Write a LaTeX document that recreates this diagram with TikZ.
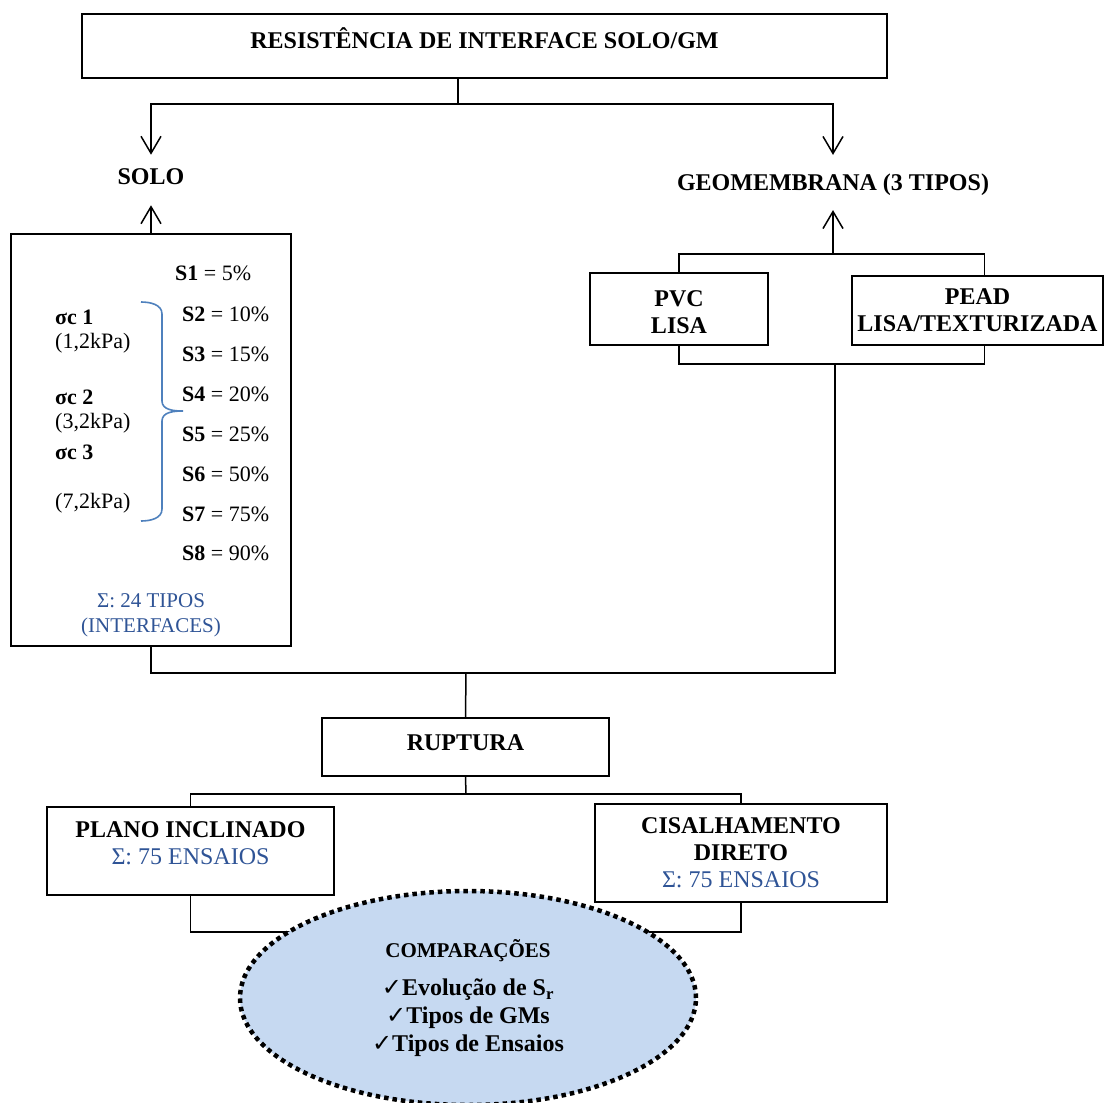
\documentclass[tikz,border=0pt]{standalone}
\usepackage{fontspec}
\setmainfont{Liberation Serif}
\newfontfamily\symfont{DejaVu Sans}
\usepackage{tikz}
\usetikzlibrary{arrows.meta,shapes.geometric}

\definecolor{sumblue}{RGB}{47,84,150}
\definecolor{bracecol}{RGB}{79,129,189}
\definecolor{compfill}{RGB}{198,217,241}

\newcommand{\checkmk}{{\symfont\char"2713}}
\newcommand{\sumline}[1]{{\mdseries\color{sumblue}#1}}

\tikzset{
	box/.style={draw, line width=1.5pt, inner sep=0pt, align=center, font=\fontsize{24}{27}\selectfont\bfseries},
	head/.style={inner sep=0pt, font=\fontsize{24}{27}\selectfont\bfseries},
	wire/.style={line width=1.5pt},
	arr/.style={line width=1.5pt, -{Straight Barb[length=17pt,width=20pt]}},
	stxt/.style={inner sep=0pt, anchor=west, font=\fontsize{22}{25}\selectfont},
}

\begin{document}
\begin{tikzpicture}[x=1pt, y=-1pt]
	\useasboundingbox (0,0) rectangle (1104,1103);

	\node [box, text depth=15pt, minimum width=805pt, minimum height=64pt] (title) at (484.5,46) {RESISTÊNCIA DE INTERFACE SOLO/GM};
	\node [head] (solo) at (151,177) {SOLO};
	\node [head] (geo) at (833,185) {GEOMEMBRANA (3 TIPOS)};

	\coordinate (split) at (458,104);
	\draw [wire] (title.south -| split) -- (split);
	\draw [arr, shorten >=14pt] (split) -| (solo.north);
	\draw [arr, shorten >=19pt] (split) -| (geo.north);

	% Soil box with saturation degrees and confining stresses
	\node [draw, line width=1.5pt, inner sep=0pt, minimum width=280pt, minimum height=412pt] (solobox) at (151,440) {};
	\draw [arr, shorten >=20pt] (solobox.north) -- (solo.south);

	\node [stxt] (s1) at (175,273) {\textbf{S1} = 5\%};
	\node [stxt] (s2) at (182,314) {\textbf{S2} = 10\%};
	\node [stxt] (s3) at (182,354) {\textbf{S3} = 15\%};
	\node [stxt] (s4) at (182,394) {\textbf{S4} = 20\%};
	\node [stxt] (s5) at (182,434) {\textbf{S5} = 25\%};
	\node [stxt] (s6) at (182,474) {\textbf{S6} = 50\%};
	\node [stxt] (s7) at (182,514) {\textbf{S7} = 75\%};
	\node [stxt] (s8) at (182,553) {\textbf{S8} = 90\%};

	\node [stxt] (sig1) at (55,317) {\textbf{σc 1}};
	\node [stxt] (kpa1) at (55,343) {(1,2kPa)};
	\node [stxt] (sig2) at (55,397) {\textbf{σc 2}};
	\node [stxt] (kpa2) at (55,423) {(3,2kPa)};
	\node [stxt] (sig3) at (55,452) {\textbf{σc 3}};
	\node [stxt] (kpa3) at (55,503) {(7,2kPa)};

	\draw [color=bracecol, line width=1.6pt] (141,302) to[out=0, in=90] (162,314) -- (162,401)
		to[out=-90, in=180] (183,411) to[out=180, in=90] (162,421) -- (162,509) to[out=-90, in=0] (141,521);

	\node [align=center, text=sumblue, font=\fontsize{21}{25}\selectfont] (sum24) at (151,615) {Σ: 24 TIPOS\\(INTERFACES)};

	% Geomembrane types
	\node [box, text height=49pt, minimum width=178pt, minimum height=72pt] (pvc) at (679,309) {PVC\\LISA};
	\node [box, minimum width=251pt, minimum height=69pt] (pead) at (977.5,310.5) {PEAD\\LISA/TEXTURIZADA};

	\coordinate (gtop) at (833,254);
	\coordinate (gbot) at (835,364);
	\draw [wire] (pvc.north) |- (gtop) -| ([xshift=7pt]pead.north);
	\draw [wire] (pvc.south) |- (gbot) -| ([xshift=7pt]pead.south);
	\draw [arr, shorten >=14pt] (gtop) -- (geo.south -| gtop);

	% Both branches join at the failure tests
	\node [box, text depth=8pt, minimum width=287pt, minimum height=58pt] (rup) at (465.5,747) {RUPTURA};
	\coordinate (join) at (466,673);
	\draw [wire] (solobox.south) |- (join) -| (gbot);
	\draw [wire] (join) -- (rup.north);

	\node [box, text depth=15pt, minimum width=287pt, minimum height=88pt] (plano) at (190.5,851) {PLANO INCLINADO\\\sumline{Σ: 75 ENSAIOS}};
	\node [box, minimum width=292pt, minimum height=98pt] (cis) at (741,853) {CISALHAMENTO\\DIRETO\\\sumline{Σ: 75 ENSAIOS}};

	\coordinate (rsplit) at (466,794);
	\coordinate (pbot) at (466,932);
	\draw [wire] (rup.south) -- (rsplit);
	\draw [wire] (plano.north) |- (rsplit) -| (cis.north);
	\draw [wire] (plano.south) |- (pbot) -| (cis.south);

	% Comparisons
	\node [ellipse, draw, fill=compfill, line width=4.5pt, dash pattern=on 4.5pt off 4pt,
		minimum width=456pt, minimum height=214pt, inner sep=0pt, align=center,
		font=\fontsize{24}{28}\selectfont\bfseries] (comp) at (468,998)
		{{\fontsize{21}{25}\selectfont COMPARAÇÕES}\\[10pt]\checkmk Evolução de S\textsubscript{r}\\\checkmk Tipos de GMs\\\checkmk Tipos de Ensaios};
\end{tikzpicture}
\end{document}
